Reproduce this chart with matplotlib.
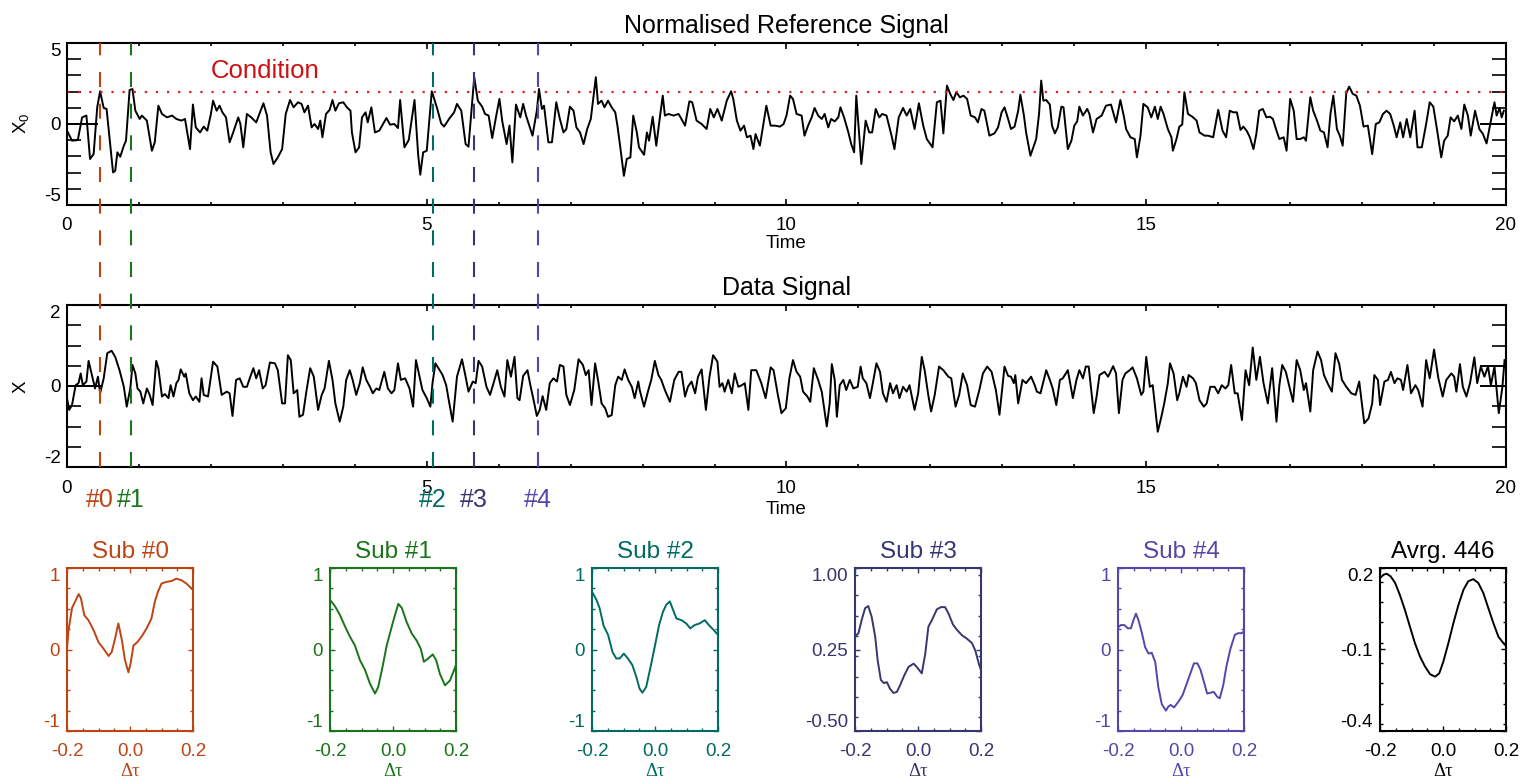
import matplotlib.pyplot as plt
import matplotlib.transforms as mtransforms
from matplotlib.lines import Line2D
from matplotlib.ticker import MultipleLocator, FixedLocator, FormatStrFormatter

plt.rcParams['font.family'] = ['Liberation Sans', 'DejaVu Sans']
plt.rcParams['mathtext.fontset'] = 'custom'
plt.rcParams['mathtext.rm'] = 'Liberation Sans'
plt.rcParams['mathtext.it'] = 'Liberation Sans'
plt.rcParams['axes.unicode_minus'] = False

# normalised reference signal X0 (time, value)
ref_signal = [
    (0.00, -0.41), (0.07, -1.03), (0.15, -0.99), (0.21, 0.41), (0.27, 0.52), (0.32, -2.16), (0.37, -1.86),
    (0.42, 1.03), (0.46, 2.02), (0.51, 0.99), (0.55, 0.93), (0.64, -2.99), (0.67, -2.89), (0.70, -1.75),
    (0.74, -2.02), (0.79, -1.34), (0.82, -1.03), (0.87, 2.10), (0.91, 2.16), (0.95, 0.82), (1.01, 0.31),
    (1.04, 0.52), (1.11, 0.21), (1.18, -1.65), (1.22, -1.13), (1.27, 1.13), (1.32, 0.62), (1.39, 0.41),
    (1.46, 0.52), (1.52, 0.31), (1.59, 0.21), (1.64, 0.31), (1.71, -1.55), (1.75, 1.20), (1.79, -0.21),
    (1.85, -0.52), (1.90, -0.16), (1.95, -0.41), (2.00, 0.62), (2.03, 1.44), (2.08, 0.82), (2.12, 1.13),
    (2.16, 0.72), (2.21, 0.41), (2.26, -1.13), (2.31, -0.52), (2.38, 0.41), (2.41, 0.00), (2.45, -1.44),
    (2.50, 0.62), (2.56, 0.41), (2.63, 0.10), (2.73, 1.28), (2.78, 0.52), (2.83, -1.75), (2.87, -2.47),
    (2.93, -2.06), (2.99, -1.55), (3.04, 0.62), (3.10, 1.48), (3.15, 1.03), (3.21, 1.34), (3.26, 1.24),
    (3.30, 0.72), (3.35, 1.13), (3.40, -0.21), (3.44, 0.00), (3.49, -0.31), (3.52, 0.21), (3.55, -0.82),
    (3.60, 0.62), (3.65, 0.87), (3.69, 1.48), (3.73, 0.82), (3.78, 1.28), (3.84, 1.34), (3.89, 1.03),
    (3.94, 0.82), (3.96, -0.52), (4.01, -1.75), (4.06, -1.44), (4.10, 0.41), (4.15, 0.72), (4.18, 0.10),
    (4.23, 1.03), (4.28, -0.52), (4.34, -0.41), (4.44, 0.37), (4.49, -0.04), (4.55, 0.00), (4.60, -0.25),
    (4.63, 1.48), (4.69, -1.44), (4.75, -0.99), (4.83, 1.48), (4.88, -1.86), (4.91, -3.13), (4.95, -1.75),
    (5.00, -1.65), (5.07, 2.02), (5.14, 1.03), (5.20, 0.04), (5.24, -0.16), (5.31, 0.31), (5.38, 0.72),
    (5.42, 1.24), (5.48, 0.82), (5.54, -1.24), (5.58, -1.40), (5.63, 1.24), (5.66, 2.89), (5.71, 1.44),
    (5.77, 1.07), (5.81, 0.62), (5.86, 0.52), (5.91, -0.87), (5.96, 0.37), (6.01, 1.55), (6.05, 0.16),
    (6.11, -1.24), (6.15, -0.10), (6.19, -2.37), (6.24, 1.20), (6.30, 0.41), (6.34, 1.24), (6.38, 0.52),
    (6.44, -0.31), (6.47, -0.72), (6.53, 0.82), (6.56, 2.16), (6.60, 0.93), (6.63, 1.13), (6.69, -1.13),
    (6.74, -1.13), (6.80, 1.34), (6.85, 0.31), (6.90, -0.52), (6.94, -0.31), (6.99, 1.07), (7.04, 0.82),
    (7.08, -0.21), (7.13, -0.52), (7.18, -1.24), (7.23, -0.31), (7.28, 0.31), (7.35, 2.89), (7.38, 1.24),
    (7.43, 1.44), (7.47, 1.03), (7.52, 1.44), (7.57, 1.03), (7.62, 0.72), (7.65, -0.10), (7.69, -1.44),
    (7.74, -3.20), (7.78, -2.16), (7.83, -2.06), (7.87, 0.52), (7.92, -0.52), (7.95, -1.44), (8.02, -1.90),
    (8.06, -0.52), (8.09, -1.03), (8.14, 0.45), (8.19, -1.34), (8.24, 0.41), (8.28, 1.75), (8.31, 0.52),
    (8.36, 0.62), (8.43, 0.52), (8.50, 0.62), (8.54, 0.31), (8.59, -0.10), (8.65, 1.40), (8.69, 1.34),
    (8.75, 0.21), (8.82, 0.00), (8.89, -0.31), (8.94, 0.93), (8.99, 0.41), (9.04, 0.93), (9.10, 0.21),
    (9.17, 1.44), (9.23, 2.02), (9.26, 1.55), (9.31, 0.21), (9.36, -0.41), (9.41, -0.10), (9.45, -0.82),
    (9.50, -0.72), (9.54, -1.55), (9.57, -0.62), (9.63, -1.34), (9.69, 0.31), (9.72, 1.13), (9.78, -0.10),
    (9.84, -0.10), (9.91, -0.16), (9.96, 0.00), (10.00, 0.52), (10.05, 1.75), (10.09, 1.55), (10.14, 0.62),
    (10.21, 0.52), (10.25, -0.72), (10.30, -0.10), (10.35, 0.41), (10.39, 0.99), (10.44, 0.52), (10.49, 0.31),
    (10.53, 0.62), (10.58, -0.21), (10.62, 0.31), (10.67, 0.16), (10.72, 0.41), (10.75, 1.03), (10.80, 0.41),
    (10.86, -0.52), (10.90, -1.24), (10.94, -1.75), (10.97, 1.75), (11.01, -0.62), (11.04, -2.47), (11.10, 0.21),
    (11.15, -0.52), (11.19, -0.52), (11.24, 0.93), (11.29, 0.41), (11.33, 0.62), (11.39, 0.52), (11.46, -0.72),
    (11.50, -1.55), (11.56, 0.41), (11.62, 0.99), (11.67, 0.52), (11.72, 0.93), (11.78, -0.31), (11.84, 1.28),
    (11.90, -0.10), (11.95, -0.93), (12.03, -1.44), (12.09, 1.34), (12.14, 1.44), (12.18, -0.58), (12.23, 2.37),
    (12.28, 1.81), (12.32, 1.48), (12.36, 1.96), (12.41, 1.65), (12.46, 1.75), (12.51, 1.55), (12.56, 0.52),
    (12.62, 0.41), (12.66, 0.10), (12.71, 0.93), (12.75, 0.82), (12.82, -0.72), (12.89, -0.58), (12.94, -0.21),
    (12.99, 0.72), (13.03, 1.03), (13.08, 0.31), (13.12, -0.31), (13.17, -0.16), (13.22, 0.82), (13.25, 1.81),
    (13.30, 0.52), (13.33, -0.52), (13.39, -1.96), (13.43, -1.44), (13.47, -0.93), (13.51, 0.62), (13.54, 2.68),
    (13.57, 1.44), (13.61, 1.48), (13.66, 1.20), (13.69, -0.10), (13.73, -0.58), (13.77, -0.21), (13.82, 1.07),
    (13.85, 1.03), (13.91, -1.55), (13.96, -1.03), (14.00, -0.10), (14.04, 0.16), (14.07, 1.07), (14.12, 0.52),
    (14.18, 0.93), (14.21, 0.62), (14.26, -0.52), (14.31, 0.31), (14.38, 0.52), (14.44, 1.13), (14.51, 1.20),
    (14.58, 0.10), (14.64, 1.48), (14.69, 0.45), (14.72, -0.31), (14.78, -0.82), (14.84, -0.93), (14.87, -2.06),
    (14.92, -0.72), (14.96, 1.24), (15.02, 1.03), (15.07, 0.41), (15.12, 1.07), (15.16, 0.31), (15.20, 1.07),
    (15.24, 0.62), (15.30, -0.31), (15.35, -0.82), (15.37, -1.65), (15.42, -0.93), (15.46, -0.16), (15.50, -0.04),
    (15.53, 1.96), (15.58, 0.62), (15.64, 0.45), (15.70, 0.21), (15.74, -0.52), (15.81, -0.72), (15.86, -0.72),
    (15.93, -0.82), (16.00, 0.87), (16.06, -0.41), (16.11, -0.82), (16.16, 0.82), (16.21, 0.72), (16.26, 0.72),
    (16.31, -0.37), (16.35, -0.16), (16.40, -0.45), (16.44, -0.82), (16.49, -1.55), (16.53, -0.62), (16.57, 0.82),
    (16.62, 0.93), (16.67, 0.41), (16.72, 0.45), (16.76, 0.31), (16.81, -0.41), (16.85, -0.93), (16.91, -0.82),
    (16.95, -1.65), (17.00, 1.55), (17.05, 0.82), (17.09, -0.93), (17.14, -0.93), (17.19, -0.82), (17.22, -1.03),
    (17.28, 1.65), (17.32, 0.82), (17.37, 0.25), (17.42, -0.41), (17.47, -0.52), (17.52, -1.44), (17.56, 0.62),
    (17.60, 1.75), (17.65, -0.31), (17.69, -0.72), (17.73, -1.34), (17.78, 1.90), (17.82, 2.31), (17.87, 1.86),
    (17.92, 1.75), (17.97, 1.13), (18.02, -0.16), (18.08, -0.10), (18.14, -1.86), (18.19, 0.00), (18.24, 0.10),
    (18.29, 0.62), (18.34, 0.82), (18.39, 0.62), (18.44, -0.10), (18.48, -0.82), (18.53, 0.10), (18.57, -0.82),
    (18.62, 0.31), (18.67, -0.82), (18.73, 0.82), (18.77, -1.44), (18.83, -1.44), (18.89, 0.00), (18.94, 1.34),
    (18.99, 1.07), (19.04, -0.31), (19.10, -2.06), (19.14, -1.03), (19.19, -0.72), (19.23, 0.41), (19.28, 0.16),
    (19.33, 0.52), (19.38, -0.31), (19.42, 1.20), (19.47, 0.52), (19.51, -0.72), (19.57, 0.82), (19.63, -0.31),
    (19.68, -0.62), (19.73, -1.20), (19.79, 0.21), (19.84, 1.34), (19.87, 0.52), (19.91, 0.99), (19.94, 0.41),
    (19.97, 0.82),
]

# data signal X (time, value)
data_signal = [
    (0.00, -0.30), (0.03, -0.59), (0.07, -0.47), (0.12, 0.02), (0.16, 0.07), (0.19, 0.31), (0.22, 0.02),
    (0.27, 0.11), (0.30, 0.62), (0.33, 0.39), (0.39, -0.06), (0.43, 0.23), (0.46, -0.18), (0.51, 0.19),
    (0.56, 0.81), (0.62, 0.87), (0.67, 0.72), (0.73, 0.39), (0.79, -0.02), (0.83, -0.51), (0.88, -0.06),
    (0.91, 0.52), (0.95, 0.31), (0.98, -0.06), (1.02, -0.14), (1.06, -0.43), (1.11, -0.06), (1.15, -0.22),
    (1.19, -0.47), (1.24, 0.62), (1.27, 0.44), (1.32, -0.26), (1.36, -0.20), (1.41, -0.30), (1.44, 0.02),
    (1.48, -0.26), (1.52, 0.07), (1.55, 0.15), (1.58, 0.41), (1.63, 0.23), (1.65, 0.31), (1.70, -0.18),
    (1.75, -0.35), (1.79, -0.26), (1.84, -0.39), (1.87, 0.19), (1.90, -0.22), (1.96, -0.26), (2.03, 0.60),
    (2.09, 0.48), (2.15, -0.22), (2.22, -0.14), (2.26, -0.18), (2.30, -0.74), (2.35, 0.15), (2.40, 0.19),
    (2.45, -0.02), (2.50, -0.02), (2.54, 0.19), (2.59, 0.44), (2.63, 0.19), (2.67, 0.39), (2.72, -0.06),
    (2.76, 0.02), (2.82, 0.58), (2.89, 0.56), (2.93, 0.39), (2.99, -0.43), (3.03, -0.43), (3.07, 0.76),
    (3.11, 0.64), (3.15, -0.18), (3.20, -0.10), (3.23, -0.76), (3.28, -0.71), (3.33, -0.10), (3.38, 0.44),
    (3.43, 0.23), (3.49, -0.59), (3.54, -0.22), (3.58, -0.06), (3.64, 0.62), (3.69, 0.15), (3.73, -0.43),
    (3.79, -0.88), (3.84, -0.51), (3.88, 0.15), (3.93, 0.39), (3.97, 0.15), (4.02, -0.22), (4.07, 0.07),
    (4.11, 0.46), (4.16, 0.15), (4.21, -0.02), (4.25, -0.18), (4.30, -0.06), (4.34, -0.10), (4.41, 0.35),
    (4.46, -0.06), (4.51, -0.18), (4.55, -0.10), (4.60, 0.56), (4.64, 0.15), (4.70, 0.19), (4.76, -0.06),
    (4.81, -0.51), (4.85, 0.64), (4.90, 0.23), (4.94, -0.10), (5.00, -0.30), (5.05, -0.51), (5.08, 0.07),
    (5.12, 0.56), (5.18, 0.39), (5.22, 0.27), (5.27, 0.02), (5.31, -0.39), (5.36, -0.88), (5.42, 0.23),
    (5.49, 0.66), (5.54, 0.23), (5.58, -0.14), (5.64, 0.11), (5.68, 0.07), (5.72, 0.62), (5.77, 0.48),
    (5.83, -0.02), (5.88, -0.22), (5.92, 0.02), (5.98, 0.39), (6.03, -0.02), (6.08, -0.26), (6.12, 0.64),
    (6.17, 0.23), (6.22, 0.72), (6.26, -0.30), (6.29, -0.35), (6.34, 0.25), (6.40, 0.39), (6.44, 0.02),
    (6.49, -0.39), (6.53, -0.74), (6.57, -0.59), (6.61, -0.25), (6.66, -0.59), (6.71, 0.07), (6.76, 0.19),
    (6.81, 0.11), (6.85, 0.52), (6.90, 0.48), (6.94, -0.22), (6.99, -0.47), (7.05, -0.10), (7.11, 0.66),
    (7.17, 0.52), (7.21, 0.27), (7.25, 0.39), (7.29, -0.47), (7.34, 0.56), (7.38, 0.15), (7.43, -0.43),
    (7.48, -0.55), (7.52, -0.76), (7.57, -0.72), (7.62, 0.02), (7.66, 0.23), (7.71, 0.15), (7.75, 0.41),
    (7.80, 0.15), (7.85, -0.02), (7.89, -0.30), (7.94, 0.11), (7.96, -0.10), (8.02, -0.51), (8.08, -0.10),
    (8.12, 0.15), (8.17, 0.62), (8.22, 0.27), (8.26, 0.15), (8.31, -0.10), (8.38, -0.39), (8.44, 0.15),
    (8.50, 0.35), (8.54, 0.35), (8.59, -0.26), (8.63, -0.02), (8.68, 0.11), (8.73, -0.18), (8.77, 0.23),
    (8.82, 0.41), (8.88, -0.59), (8.93, 0.23), (8.98, 0.76), (9.04, 0.60), (9.07, -0.02), (9.11, 0.07),
    (9.14, -0.14), (9.19, 0.15), (9.24, -0.18), (9.28, 0.31), (9.33, -0.02), (9.38, 0.02), (9.42, 0.07),
    (9.47, -0.59), (9.51, 0.39), (9.58, 0.39), (9.65, 0.07), (9.71, -0.30), (9.78, 0.46), (9.82, 0.39),
    (9.88, -0.22), (9.93, -0.67), (9.99, -0.55), (10.04, 0.19), (10.09, 0.64), (10.14, 0.35), (10.19, 0.23),
    (10.23, -0.14), (10.29, -0.26), (10.33, -0.39), (10.38, 0.44), (10.44, 0.15), (10.49, -0.14), (10.52, -0.51),
    (10.56, -1.00), (10.60, -0.43), (10.63, 0.54), (10.67, 0.15), (10.70, -0.76), (10.74, 0.02), (10.79, 0.15),
    (10.83, -0.10), (10.88, 0.15), (10.93, -0.06), (10.99, -0.02), (11.03, 0.48), (11.06, 0.19), (11.11, 0.07),
    (11.16, -0.30), (11.20, 0.07), (11.25, 0.56), (11.30, 0.35), (11.34, -0.18), (11.39, -0.39), (11.44, 0.07),
    (11.48, -0.18), (11.53, 0.02), (11.57, -0.30), (11.62, -0.02), (11.67, -0.14), (11.71, 0.02), (11.78, -0.59),
    (11.83, -0.18), (11.88, 0.72), (11.92, 0.39), (11.97, -0.22), (12.01, -0.63), (12.06, -0.22), (12.12, 0.48),
    (12.18, 0.39), (12.25, 0.23), (12.29, 0.19), (12.35, -0.51), (12.40, -0.22), (12.45, 0.31), (12.51, 0.02),
    (12.56, -0.47), (12.62, -0.51), (12.68, -0.10), (12.73, 0.31), (12.79, 0.48), (12.85, 0.35), (12.91, -0.10),
    (12.96, -0.71), (13.03, 0.48), (13.08, 0.25), (13.12, 0.23), (13.16, 0.07), (13.18, 0.27), (13.22, -0.43),
    (13.28, 0.15), (13.33, 0.07), (13.40, 0.23), (13.45, 0.02), (13.48, -0.14), (13.53, -0.18), (13.61, 0.39),
    (13.66, 0.15), (13.70, -0.06), (13.75, -0.47), (13.80, 0.15), (13.84, 0.19), (13.91, 0.39), (13.98, -0.30),
    (14.03, 0.15), (14.07, 0.39), (14.12, 0.19), (14.16, 0.48), (14.20, 0.48), (14.27, -0.67), (14.31, -0.26),
    (14.35, 0.27), (14.42, 0.35), (14.47, 0.23), (14.54, 0.49), (14.58, 0.31), (14.62, -0.67), (14.67, 0.15),
    (14.71, 0.31), (14.77, 0.39), (14.81, 0.46), (14.87, 0.19), (14.93, -0.22), (14.96, -0.14), (15.00, 0.72),
    (15.05, -0.02), (15.09, 0.02), (15.16, -1.13), (15.21, -0.76), (15.25, -0.43), (15.30, 0.07), (15.33, 0.56),
    (15.38, 0.31), (15.43, -0.35), (15.46, -0.18), (15.51, 0.23), (15.56, -0.02), (15.59, 0.27), (15.65, 0.19),
    (15.69, 0.07), (15.74, -0.35), (15.80, -0.51), (15.84, -0.43), (15.89, -0.02), (15.95, -0.02), (16.00, -0.18),
    (16.05, 0.02), (16.10, -0.06), (16.14, 0.02), (16.18, 0.52), (16.23, -0.18), (16.27, -0.18), (16.33, -0.84),
    (16.38, 0.39), (16.43, 0.02), (16.48, 0.95), (16.53, 0.15), (16.58, 0.72), (16.63, 0.07), (16.69, -0.43),
    (16.75, 0.44), (16.81, -0.88), (16.85, 0.02), (16.89, 0.52), (16.94, 0.35), (16.99, -0.02), (17.04, -0.39),
    (17.09, 0.64), (17.14, 0.39), (17.19, -0.10), (17.22, 0.07), (17.28, -0.63), (17.32, 0.39), (17.38, 0.85),
    (17.43, 0.64), (17.47, 0.27), (17.52, 0.07), (17.58, -0.14), (17.63, 0.81), (17.68, 0.56), (17.72, 0.15),
    (17.78, -0.02), (17.85, -0.18), (17.91, -0.22), (17.96, 0.11), (18.03, -0.92), (18.09, -0.80), (18.14, -0.43),
    (18.17, 0.27), (18.22, 0.15), (18.25, -0.47), (18.31, 0.11), (18.36, 0.15), (18.40, 0.35), (18.45, 0.07),
    (18.49, 0.19), (18.54, 0.15), (18.57, -0.10), (18.63, 0.52), (18.68, -0.18), (18.74, 0.02), (18.78, -0.10),
    (18.84, -0.51), (18.89, 0.64), (18.94, 0.19), (19.00, 0.90), (19.06, 0.19), (19.12, -0.26), (19.17, 0.15),
    (19.24, 0.31), (19.28, 0.23), (19.31, -0.14), (19.36, 0.54), (19.40, -0.02), (19.45, -0.26), (19.50, 0.07),
    (19.56, 0.71), (19.60, 0.07), (19.65, 0.48), (19.70, 0.23), (19.75, 0.48), (19.79, 0.02), (19.84, 0.48),
    (19.90, -0.67), (19.95, -0.02), (19.98, 0.64),
]

# flat pieces at both ends of the traces
ref_flat = [([0.0, 0.42], [0.0, 0.0]), ([19.65, 20.0], [0.0, 0.0])]
data_flat = [([0.0, 0.46], [0.0, 0.0]), ([19.65, 20.0], [0.0, 0.0]), ([19.65, 20.0], [0.5, 0.5])]

condition_level = 2.0
event_times = [0.46, 0.89, 5.08, 5.65, 6.54]
event_labels = ['#0', '#1', '#2', '#3', '#4']
event_colors = ['#BE4414', '#1A741A', '#006B60', '#363670', '#5546A8']

# conditional averages of the sub signals (delta tau, value)
sub0 = [(-0.200, 0.01), (-0.195, 0.24), (-0.184, 0.51), (-0.174, 0.59), (-0.163, 0.68), (-0.156, 0.63),
        (-0.145, 0.42), (-0.132, 0.36), (-0.116, 0.24), (-0.100, 0.09), (-0.084, 0.01), (-0.068, -0.08),
        (-0.058, -0.03), (-0.047, 0.14), (-0.037, 0.32), (-0.026, 0.12), (-0.016, -0.13), (-0.005, -0.28),
        (0.002, -0.17), (0.011, 0.05), (0.023, 0.09), (0.037, 0.16), (0.053, 0.26), (0.068, 0.38),
        (0.079, 0.59), (0.089, 0.71), (0.100, 0.81), (0.116, 0.83), (0.132, 0.84), (0.147, 0.87),
        (0.163, 0.85), (0.179, 0.81), (0.195, 0.75), (0.200, 0.73)]
sub1 = [(-0.200, 0.61), (-0.184, 0.53), (-0.168, 0.42), (-0.152, 0.28), (-0.137, 0.16), (-0.121, 0.05),
        (-0.105, -0.13), (-0.089, -0.25), (-0.073, -0.42), (-0.057, -0.54), (-0.047, -0.46), (-0.033, -0.21),
        (-0.020, 0.05), (-0.004, 0.28), (0.006, 0.42), (0.017, 0.56), (0.028, 0.51), (0.043, 0.34),
        (0.059, 0.20), (0.075, 0.11), (0.088, 0.01), (0.098, -0.15), (0.112, -0.11), (0.126, -0.06),
        (0.137, -0.13), (0.149, -0.30), (0.165, -0.44), (0.181, -0.38), (0.200, -0.19)]
sub2 = [(-0.200, 0.71), (-0.186, 0.61), (-0.176, 0.51), (-0.163, 0.29), (-0.149, 0.18), (-0.135, -0.03),
        (-0.123, -0.11), (-0.112, -0.11), (-0.099, -0.05), (-0.086, -0.11), (-0.072, -0.19), (-0.059, -0.34),
        (-0.049, -0.48), (-0.040, -0.53), (-0.028, -0.46), (-0.015, -0.23), (-0.001, 0.03), (0.013, 0.30),
        (0.025, 0.46), (0.036, 0.55), (0.047, 0.59), (0.055, 0.51), (0.068, 0.38), (0.084, 0.36),
        (0.099, 0.32), (0.112, 0.26), (0.126, 0.30), (0.142, 0.32), (0.158, 0.36), (0.171, 0.30),
        (0.186, 0.24), (0.200, 0.18)]
sub3 = [(-0.200, 0.37), (-0.189, 0.40), (-0.179, 0.52), (-0.168, 0.63), (-0.158, 0.65), (-0.147, 0.55),
        (-0.136, 0.37), (-0.128, 0.15), (-0.118, -0.03), (-0.108, -0.06), (-0.099, -0.05), (-0.089, -0.11),
        (-0.078, -0.15), (-0.067, -0.14), (-0.057, -0.08), (-0.044, 0.01), (-0.030, 0.09), (-0.014, 0.12),
        (-0.004, 0.09), (0.012, 0.03), (0.023, 0.21), (0.033, 0.46), (0.044, 0.52), (0.060, 0.62),
        (0.073, 0.64), (0.086, 0.64), (0.097, 0.58), (0.111, 0.48), (0.124, 0.43), (0.140, 0.38),
        (0.155, 0.35), (0.171, 0.31), (0.182, 0.24), (0.193, 0.12), (0.200, 0.06)]
sub4 = [(-0.200, 0.27), (-0.191, 0.30), (-0.180, 0.30), (-0.169, 0.26), (-0.159, 0.26), (-0.151, 0.36),
        (-0.143, 0.44), (-0.135, 0.36), (-0.124, 0.20), (-0.114, 0.03), (-0.103, -0.05), (-0.093, -0.04),
        (-0.082, -0.15), (-0.072, -0.46), (-0.061, -0.67), (-0.048, -0.75), (-0.040, -0.70), (-0.033, -0.68),
        (-0.022, -0.71), (-0.008, -0.64), (0.005, -0.56), (0.018, -0.42), (0.031, -0.28), (0.041, -0.17),
        (0.052, -0.17), (0.062, -0.25), (0.073, -0.40), (0.083, -0.54), (0.094, -0.53), (0.104, -0.52),
        (0.115, -0.58), (0.123, -0.60), (0.134, -0.44), (0.144, -0.21), (0.157, 0.01), (0.171, 0.18),
        (0.181, 0.20), (0.192, 0.20), (0.200, 0.22)]
avrg = [(-0.200, 0.163), (-0.189, 0.175), (-0.179, 0.179), (-0.166, 0.169), (-0.152, 0.145), (-0.137, 0.101),
        (-0.121, 0.046), (-0.105, -0.016), (-0.089, -0.077), (-0.073, -0.126), (-0.057, -0.163),
        (-0.041, -0.191), (-0.025, -0.200), (-0.012, -0.188), (0.001, -0.145), (0.017, -0.077),
        (0.033, -0.003), (0.049, 0.064), (0.065, 0.120), (0.080, 0.151), (0.096, 0.159), (0.112, 0.145),
        (0.128, 0.108), (0.144, 0.052), (0.160, -0.003), (0.176, -0.053), (0.192, -0.077), (0.200, -0.087)]

sub_curves = [sub0, sub1, sub2, sub3, sub4, avrg]
sub_titles = ['Sub #0', 'Sub #1', 'Sub #2', 'Sub #3', 'Sub #4', 'Avrg. 446']
sub_colors = event_colors + ['black']
sub_ylims = [(-1, 1), (-1, 1), (-1, 1), (-0.5, 1.0), (-1, 1), (-0.4, 0.2)]
sub_yticks = [[-1, 0, 1], [-1, 0, 1], [-1, 0, 1], [-0.5, 0.25, 1.0], [-1, 0, 1], [-0.4, -0.1, 0.2]]
sub_yfmt = ['%d', '%d', '%d', '%.2f', '%d', '%.1f']

W, H = 1522, 779
fig = plt.figure(figsize=(W / 100, H / 100), dpi=100)


def box(l, t, r, b):
    return [l / W, 1 - b / H, (r - l) / W, (b - t) / H]


def edge_labels_inside(ax):
    labs = ax.get_yticklabels()
    labs[0].set_va('bottom')
    labs[-1].set_va('top')


ax_ref = fig.add_axes(box(67, 43, 1506, 205))
ax_dat = fig.add_axes(box(67, 305, 1506, 467))

ax_ref.plot(*zip(*ref_signal), color='black', lw=1.4)
for xs, ys in ref_flat:
    ax_ref.plot(xs, ys, color='black', lw=1.4)
ax_ref.axhline(condition_level, color='#E02020', lw=1.6, ls=(0, (1, 4)))
ax_ref.text(2.0, 2.84, 'Condition', color='#CC1111', fontsize=18.5, ha='left', va='baseline')

ax_dat.plot(*zip(*data_signal), color='black', lw=1.4)
for xs, ys in data_flat:
    ax_dat.plot(xs, ys, color='black', lw=1.4)

for ax, ylim, ystep, title, pad in [(ax_ref, (-5, 5), 1, 'Normalised Reference Signal', 8.6),
                                    (ax_dat, (-2, 2), 0.5, 'Data Signal', 9.2)]:
    ax.set_xlim(0, 20)
    ax.set_ylim(*ylim)
    ax.xaxis.set_major_locator(MultipleLocator(5))
    ax.xaxis.set_minor_locator(MultipleLocator(1))
    ax.yaxis.set_major_locator(FixedLocator([ylim[0], 0, ylim[1]]))
    ax.yaxis.set_minor_locator(MultipleLocator(ystep))
    ax.tick_params(which='both', direction='in', top=True, right=True, labelsize=13.5, width=1.2)
    ax.tick_params(axis='y', which='both', length=10, pad=4.5)
    ax.tick_params(axis='x', which='major', length=4, pad=pad)
    ax.tick_params(axis='x', which='minor', length=2.5)
    for s in ax.spines.values():
        s.set_linewidth(1.5)
    ax.set_title(title, fontsize=18, pad=7)
    edge_labels_inside(ax)

fig.text(786 / W, 1 - 244 / H, 'Time', fontsize=13.5, ha='center', va='center')
fig.text(786 / W, 1 - 510 / H, 'Time', fontsize=13.5, ha='center', va='center')
fig.text(21 / W, 1 - 123 / H, 'X$_0$', fontsize=13.5, rotation=90, ha='center', va='center')
fig.text(21 / W, 1 - 387 / H, 'X', fontsize=13.5, rotation=90, ha='center', va='center')

# event markers spanning both panels
trans = mtransforms.blended_transform_factory(ax_ref.transData, fig.transFigure)
for t, lab, c in zip(event_times, event_labels, event_colors):
    fig.add_artist(Line2D([t, t], [1 - 467 / H, 1 - 43 / H], transform=trans, color=c, lw=1.5,
                          dashes=(7.2, 8.0)))
    fig.text(t, 1 - 500 / H, lab, transform=trans, color=c, fontsize=18, ha='center', va='center')

# small conditional-average panels
lefts = [67, 330, 592, 855, 1118, 1380]
for i, left in enumerate(lefts):
    ax = fig.add_axes(box(left, 568, left + 126, 731))
    c = sub_colors[i]
    ax.plot(*zip(*sub_curves[i]), color=c, lw=1.4)
    ax.set_xlim(-0.2, 0.2)
    ax.set_ylim(*sub_ylims[i])
    ax.xaxis.set_major_locator(FixedLocator([-0.2, 0.0, 0.2]))
    ax.xaxis.set_minor_locator(MultipleLocator(0.05))
    ax.xaxis.set_major_formatter(FormatStrFormatter('%.1f'))
    ax.yaxis.set_major_locator(FixedLocator(sub_yticks[i]))
    lo, hi = sub_ylims[i]
    ax.yaxis.set_minor_locator(MultipleLocator((hi - lo) / 8))
    ax.yaxis.set_major_formatter(FormatStrFormatter(sub_yfmt[i]))
    ax.tick_params(which='both', direction='in', top=True, right=True, colors=c, labelsize=13.5, width=1.0)
    ax.tick_params(which='major', length=3.5)
    ax.tick_params(which='minor', length=2)
    ax.tick_params(axis='x', pad=9)
    ax.tick_params(axis='y', pad=5)
    for s in ax.spines.values():
        s.set_linewidth(1.5)
        s.set_color(c)
    ax.set_title(sub_titles[i], color=c, fontsize=17.5, pad=7)
    edge_labels_inside(ax)
    fig.text((left + 63) / W, 1 - 771 / H, 'Δτ', color=c, fontsize=13.5, ha='center', va='center',
             family=['Liberation Serif', 'DejaVu Serif'])

fig.savefig('out.png', dpi=100)
